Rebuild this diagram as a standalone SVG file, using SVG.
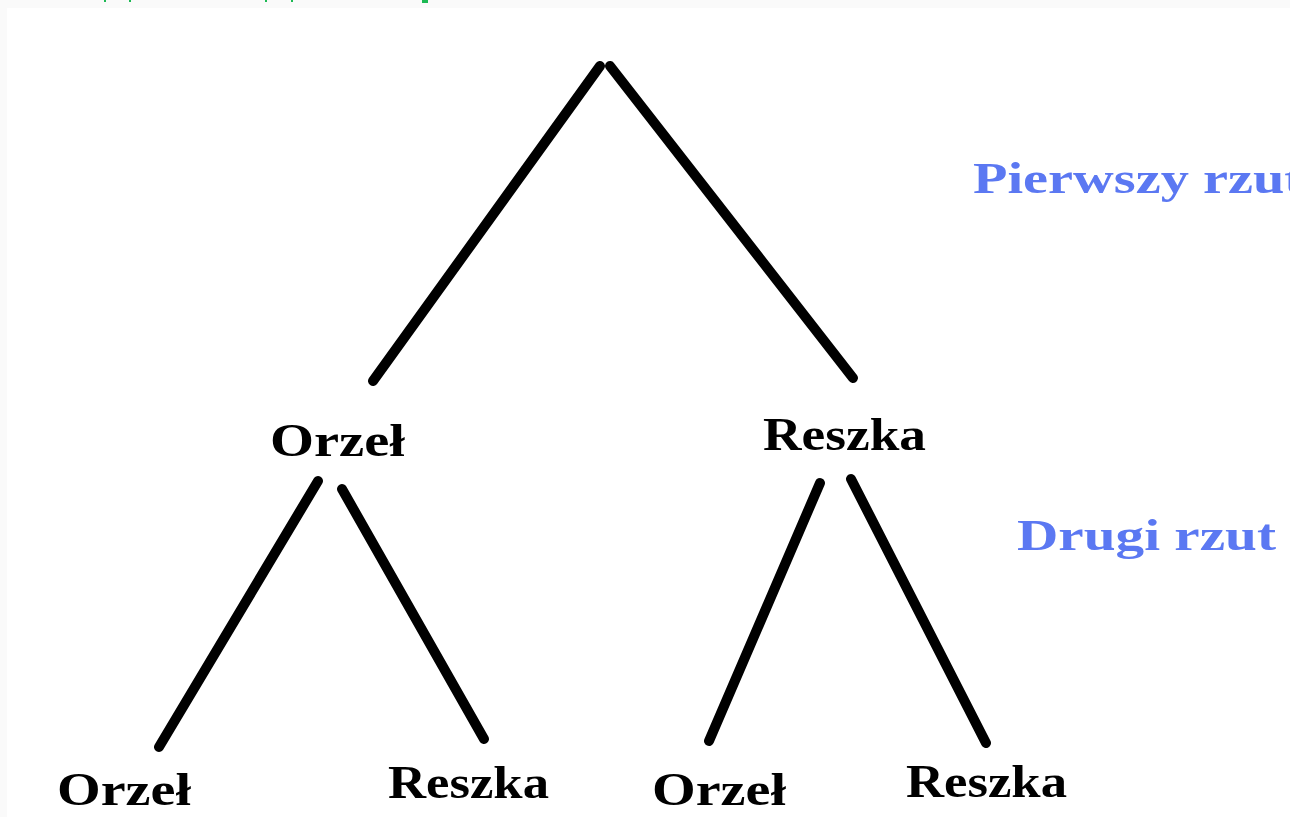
<svg xmlns="http://www.w3.org/2000/svg" width="1290" height="817" viewBox="0 0 1290 817">
<style>
.lbl{font-family:"Liberation Serif","DejaVu Serif",serif;font-weight:bold;font-size:46px;fill:#000}
.rzut{font-family:"Liberation Serif","DejaVu Serif",serif;font-weight:bold;font-size:44px;fill:#5b78f2}
.edge{stroke:#000;stroke-width:10;stroke-linecap:round;fill:none}
</style>
<rect width="1290" height="817" fill="#fff"/>
<rect x="0" y="0" width="1290" height="8" fill="#fafafa"/>
<rect x="0" y="0" width="7" height="817" fill="#fafafa"/>
<g fill="#1db954">
<rect x="104" y="0" width="2" height="2"/><rect x="129" y="0" width="2" height="2"/>
<rect x="265" y="0" width="2" height="2"/><rect x="291" y="0" width="2" height="2"/>
<rect x="422" y="0" width="6" height="3"/>
</g>
<g id="connectors">
<line class="edge" x1="600" y1="66" x2="373" y2="381"/>
<line class="edge" x1="610" y1="66" x2="853" y2="378"/>
<line class="edge" x1="318" y1="481" x2="159" y2="747"/>
<line class="edge" x1="342" y1="489" x2="484" y2="739"/>
<line class="edge" x1="820" y1="483" x2="709" y2="741"/>
<line class="edge" x1="851" y1="479" x2="986" y2="743"/>
</g>
<g id="n-orzel1"><text class="lbl" x="270" y="456" textLength="135" lengthAdjust="spacingAndGlyphs">Orzeł</text></g>
<g id="n-reszka1"><text class="lbl" x="763" y="450" textLength="163" lengthAdjust="spacingAndGlyphs">Reszka</text></g>
<g id="n-orzel2"><text class="lbl" x="57" y="805" textLength="134" lengthAdjust="spacingAndGlyphs">Orzeł</text></g>
<g id="n-reszka2"><text class="lbl" x="388" y="798" textLength="161" lengthAdjust="spacingAndGlyphs">Reszka</text></g>
<g id="n-orzel3"><text class="lbl" x="652" y="805" textLength="134" lengthAdjust="spacingAndGlyphs">Orzeł</text></g>
<g id="n-reszka3"><text class="lbl" x="906" y="797" textLength="161" lengthAdjust="spacingAndGlyphs">Reszka</text></g>
<g id="label-pierwszy"><text class="rzut" x="973" y="193" textLength="330" lengthAdjust="spacingAndGlyphs">Pierwszy rzut</text></g>
<g id="label-drugi"><text class="rzut" x="1017" y="550" textLength="259" lengthAdjust="spacingAndGlyphs">Drugi rzut</text></g>
</svg>
